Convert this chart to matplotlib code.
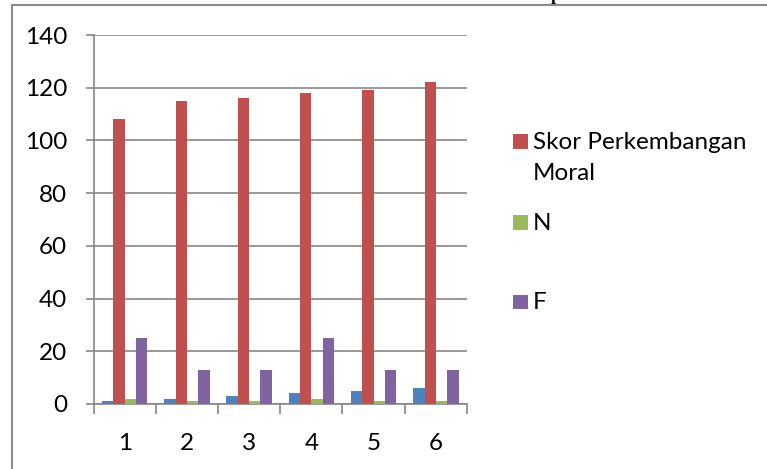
import numpy as np
import matplotlib
matplotlib.use('Agg')
import matplotlib.pyplot as plt
from matplotlib.patches import Rectangle
from matplotlib.lines import Line2D

plt.rcParams['font.family'] = ['Lato', 'DejaVu Sans']

categories = [1, 2, 3, 4, 5, 6]
no_values = [1, 2, 3, 4, 5, 6]
skor_values = [108, 115, 116, 118, 119, 122]
n_values = [2, 1, 1, 2, 1, 1]
f_values = [25, 13, 13, 25, 13, 13]
legend_labels = ['Skor Perkembangan\nMoral', 'N', 'F']

colors = ['#4F81BD', '#C0504D', '#9BBB59', '#8064A2']
grid_color = '#868686'
fs = 17.5

W, H = 767, 469
fig = plt.figure(figsize=(W / 100, H / 100), dpi=100)


def fx(px):
    return px / W


def fy(py):
    return 1 - py / H


ax = fig.add_axes([fx(93.5), fy(404), fx(467) - fx(93.5), fy(35) - fy(404)])

x = np.arange(len(categories)) + 1
w = 1 / 5.5
series = [no_values, skor_values, n_values, f_values]
for i, (vals, c) in enumerate(zip(series, colors)):
    ax.bar(x + (i - 1.5) * w, vals, width=w, color=c, edgecolor='none', zorder=3)

ax.set_xlim(0.5, len(categories) + 0.5)
ax.set_ylim(0, 140)
ax.set_yticks(np.arange(0, 141, 20))
ax.set_xticks(x)
ax.set_xticklabels([str(c) for c in categories])
ax.set_xticks(np.arange(0.5, len(categories) + 1, 1), minor=True)

ax.yaxis.grid(True, color=grid_color, linewidth=1.2, zorder=0)
ax.set_axisbelow(True)
for side in ['top', 'right']:
    ax.spines[side].set_visible(False)
for side in ['left', 'bottom']:
    ax.spines[side].set_color(grid_color)
    ax.spines[side].set_linewidth(1.2)

ax.tick_params(axis='y', direction='out', length=6, width=1.2, color=grid_color,
               labelsize=fs, pad=13)
ax.tick_params(axis='x', which='major', length=0, labelsize=fs, pad=21)
ax.tick_params(axis='x', which='minor', direction='out', length=7, width=1.2,
               color=grid_color)

# legend drawn by hand, Excel style: marker sits beside the first text line
legend_y = [142, 223, 302]
for lab, c, ly in zip(legend_labels, colors[1:], legend_y):
    fig.add_artist(Rectangle((fx(513), fy(ly + 7)), fx(14.5), 14.5 / H,
                             transform=fig.transFigure, color=c, lw=0))
    fig.text(fx(533), fy(ly - 10), lab, fontsize=fs, va='top', ha='left',
             linespacing=1.6)

# outer frame
fig.add_artist(Line2D([fx(11.5), fx(11.5)], [fy(5), 0], color='#8c8c8c', lw=1.5))
fig.add_artist(Line2D([fx(11.5), 1], [fy(5), fy(5)], color='#8c8c8c', lw=1.5))

# heading above, cut off at the top edge
fig.text(fx(551), fy(0.5), 'p', fontsize=13, fontweight='bold',
         family='Liberation Serif', ha='left', va='baseline')

fig.savefig('out.png', dpi=100)
